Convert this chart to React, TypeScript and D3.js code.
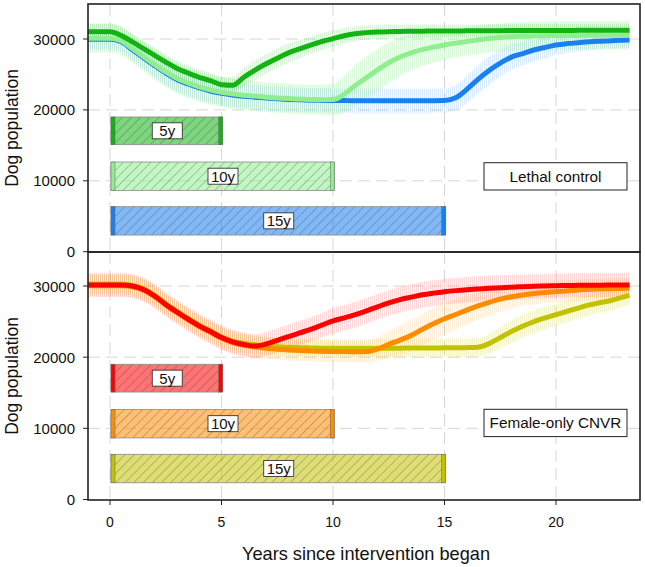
import React from "react";
import * as d3 from "d3";

const years = [
  -1, -0.5, 0, 0.5, 1, 1.5, 2, 2.5, 3, 3.5,
  4, 4.5, 5, 5.5, 6, 6.5, 7, 7.5, 8, 8.5,
  9, 9.5, 10, 10.5, 11, 11.5, 12, 12.5, 13, 13.5,
  14, 14.5, 15, 15.5, 16, 16.5, 17, 17.5, 18, 18.5,
  19, 19.5, 20, 20.5, 21, 21.5, 22, 22.5, 23, 23.3,
];

// Lethal control
const lethal5 = [
  31030, 31030, 31030, 30500, 29600, 28650, 27700, 26750, 25850, 25200,
  24600, 24130, 23550, 23480, 24600, 25600, 26500, 27300, 28050, 28600,
  29150, 29650, 30050, 30450, 30750, 30900, 30990, 31040, 31070, 31090,
  31110, 31120, 31130, 31140, 31150, 31160, 31170, 31180, 31190, 31190,
  31200, 31200, 31210, 31210, 31220, 31220, 31230, 31230, 31240, 31240,
];
const lethal10 = [
  30100, 30100, 30100, 29750, 28650, 27510, 26400, 25350, 24450, 23800,
  23250, 22820, 22500, 22260, 22080, 21950, 21800, 21690, 21600, 21530,
  21470, 21430, 21450, 22200, 23450, 24550, 25650, 26650, 27450, 28050,
  28500, 28850, 29150, 29420, 29650, 29880, 30080, 30220, 30320, 30400,
  30440, 30470, 30490, 30500, 30510, 30520, 30530, 30540, 30550, 30560,
];
const lethal15 = [
  29950, 29950, 29950, 29600, 28500, 27360, 26250, 25200, 24300, 23650,
  23100, 22670, 22350, 22110, 21930, 21800, 21660, 21560, 21480, 21420,
  21370, 21340, 21320, 21310, 21300, 21300, 21300, 21300, 21300, 21300,
  21300, 21300, 21320, 21700, 22900, 24300, 25550, 26600, 27450, 27950,
  28450, 28800, 29150, 29350, 29480, 29600, 29690, 29770, 29830, 29860,
];
const lethal5Spread = [
  1200, 1200, 1200, 1200, 1150, 1100, 1100, 1100, 1100, 1100,
  1100, 1100, 1100, 1150, 1300, 1400, 1400, 1400, 1350, 1300,
  1250, 1200, 1150, 1100, 1050, 1000, 1000, 1000, 950, 950,
  950, 950, 900, 900, 900, 900, 900, 900, 900, 900,
  900, 900, 900, 900, 900, 900, 900, 900, 900, 900,
];
const lethal10Spread = [
  2000, 2000, 2000, 2000, 2000, 2100, 2100, 2100, 2100, 2100,
  2100, 2100, 2100, 2100, 2100, 2100, 2100, 2100, 2100, 2100,
  2100, 2100, 2200, 2600, 2900, 3000, 3000, 2900, 2700, 2500,
  2300, 2200, 2100, 2000, 2000, 2000, 2000, 2000, 2000, 2000,
  2000, 2000, 2000, 2000, 2000, 2000, 2000, 2000, 2000, 2000,
];
const lethal15Spread = [
  1400, 1400, 1400, 1400, 1500, 1600, 1600, 1700, 1700, 1700,
  1700, 1700, 1700, 1700, 1700, 1700, 1700, 1700, 1700, 1700,
  1700, 1700, 1700, 1700, 1700, 1700, 1700, 1700, 1700, 1700,
  1700, 1700, 1700, 1800, 1900, 2000, 2000, 1900, 1800, 1700,
  1600, 1500, 1400, 1300, 1200, 1200, 1100, 1100, 1100, 1100,
];

// Female-only CNVR
const female5 = [
  30150, 30150, 30150, 30150, 30000, 29500, 28600, 27400, 26350, 25350,
  24400, 23600, 22750, 22150, 21780, 21560, 21850, 22370, 22880, 23400,
  23920, 24500, 25100, 25520, 25980, 26500, 27080, 27620, 28080, 28430,
  28760, 29000, 29200, 29350, 29470, 29580, 29680, 29760, 29840, 29900,
  29950, 30000, 30040, 30070, 30090, 30110, 30120, 30130, 30140, 30150,
];
const female10 = [
  30050, 30050, 30050, 30050, 29900, 29400, 28500, 27300, 26250, 25250,
  24300, 23500, 22650, 22050, 21680, 21450, 21250, 21120, 21020, 20940,
  20880, 20830, 20800, 20780, 20770, 20780, 21150, 21800, 22400, 23050,
  23900, 24700, 25400, 26000, 26620, 27200, 27700, 28150, 28500, 28750,
  28950, 29100, 29220, 29320, 29430, 29530, 29580, 29620, 29660, 29680,
];
const female15 = [
  30270, 30270, 30270, 30270, 30120, 29620, 28720, 27520, 26470, 25470,
  24520, 23720, 22870, 22300, 21950, 21750, 21600, 21480, 21400, 21340,
  21300, 21270, 21250, 21240, 21240, 21240, 21250, 21260, 21270, 21280,
  21290, 21300, 21310, 21320, 21340, 21400, 21900, 22750, 23600, 24350,
  24980, 25500, 25970, 26450, 26900, 27350, 27680, 28000, 28450, 28730,
];
const female5Spread = [
  1700, 1700, 1700, 1700, 1700, 1700, 1700, 1700, 1700, 1700,
  1700, 1700, 1700, 1700, 1700, 1700, 1700, 1700, 1700, 1700,
  1700, 1750, 1800, 1800, 1800, 1800, 1800, 1800, 1800, 1800,
  1800, 1800, 1800, 1800, 1800, 1800, 1800, 1750, 1750, 1700,
  1700, 1700, 1700, 1700, 1700, 1700, 1700, 1700, 1700, 1700,
];
const female10Spread = [
  1500, 1500, 1500, 1500, 1500, 1500, 1500, 1500, 1500, 1500,
  1500, 1500, 1500, 1500, 1500, 1500, 1500, 1500, 1500, 1500,
  1500, 1500, 1500, 1500, 1500, 1500, 1700, 1900, 2100, 2200,
  2200, 2200, 2200, 2100, 2000, 1900, 1800, 1700, 1600, 1500,
  1500, 1500, 1500, 1500, 1500, 1500, 1500, 1500, 1500, 1500,
];
const female15Spread = [
  1400, 1400, 1400, 1400, 1400, 1400, 1400, 1400, 1400, 1400,
  1400, 1400, 1400, 1400, 1300, 1300, 1300, 1300, 1300, 1300,
  1300, 1300, 1300, 1300, 1300, 1300, 1300, 1300, 1300, 1300,
  1300, 1300, 1300, 1300, 1300, 1300, 1400, 1500, 1600, 1600,
  1600, 1600, 1500, 1500, 1500, 1400, 1400, 1400, 1300, 1300,
];

const durations = [5, 10, 15];
const durationLabels = ["5y", "10y", "15y"];
const barLow = [15100, 8650, 2350];
const barHigh = [19000, 12650, 6350];
const yTicks = [0, 10000, 20000, 30000];
const xTicks = [0, 5, 10, 15, 20];
const panelTitles = ["Lethal control", "Female-only CNVR"];
const lethalColors = ["#12b312", "#90ee90", "#1a80f0"];
const femaleColors = ["#ff0000", "#ff8c00", "#c2c200"];
const bandOpacity = [[0.16, 0.3, 0.17], [0.15, 0.14, 0.2]];
const yLabel = "Dog population";
const xLabel = "Years since intervention began";

const FONT = "'Liberation Sans', Arial, Helvetica, sans-serif";

export default function App() {
  const W = 645;
  const H = 567;
  const frameL = 88;
  const frameR = 640;
  const x = d3.scaleLinear().domain([0, 20]).range([110, 556]);

  const panels = [
    {
      top: 4,
      bottom: 252,
      y: d3.scaleLinear().domain([0, 30000]).range([251.7, 39]),
      series: [lethal5, lethal10, lethal15],
      spreads: [lethal5Spread, lethal10Spread, lethal15Spread],
      colors: lethalColors,
      title: panelTitles[0],
      titleBox: [484, 162.7, 143, 27.3],
    },
    {
      top: 252,
      bottom: 500,
      y: d3.scaleLinear().domain([0, 30000]).range([499.5, 286]),
      series: [female5, female10, female15],
      spreads: [female5Spread, female10Spread, female15Spread],
      colors: femaleColors,
      title: panelTitles[1],
      titleBox: [484, 409.3, 143, 27.3],
    },
  ];

  return (
    <svg
      width={W}
      height={H}
      style={{ position: "absolute", left: 0, top: 0, background: "#fff" }}
      fontFamily={FONT}
    >
      <defs>
        <pattern id="hatch" patternUnits="userSpaceOnUse" width={6.5} height={6.5} patternTransform="rotate(45)">
          <line x1={0} y1={0} x2={0} y2={6.5} stroke="#333" strokeWidth={0.7} strokeOpacity={0.75} />
        </pattern>
        {panels.map((p, pi) =>
          p.colors.map((c, ci) => (
            <pattern key={`s${pi}${ci}`} id={`stripe-${pi}-${ci}`} patternUnits="userSpaceOnUse" width={2} height={4}>
              <rect x={0} y={0} width={1} height={4} fill={c} fillOpacity={bandOpacity[pi][ci]} />
            </pattern>
          ))
        )}
        {panels.map((p, pi) => (
          <clipPath key={`c${pi}`} id={`clip-${pi}`}>
            <rect x={frameL} y={p.top} width={frameR - frameL} height={p.bottom - p.top} />
          </clipPath>
        ))}
      </defs>

      {panels.map((p, pi) => {
        const y = p.y;
        const line = d3
          .line<number>()
          .x((_, i) => x(years[i]))
          .y((d) => y(d))
          .curve(d3.curveMonotoneX);
        const order = [2, 1, 0];
        return (
          <g key={`p${pi}`}>
            {/* grid */}
            <g stroke="#d6d6d6" strokeWidth={1} strokeDasharray="12,6">
              {xTicks.map((t) => (
                <line key={`gx${t}`} x1={x(t)} x2={x(t)} y1={p.top} y2={p.bottom} />
              ))}
              {yTicks.filter((t) => t > 0).map((t) => (
                <line key={`gy${t}`} x1={frameL} x2={frameR} y1={y(t)} y2={y(t)} />
              ))}
            </g>

            {/* bands and lines */}
            <g clipPath={`url(#clip-${pi})`}>
              {order.map((si) => {
                const area = d3
                  .area<number>()
                  .x((_, i) => x(years[i]))
                  .y0((d, i) => y(d - p.spreads[si][i]))
                  .y1((d, i) => y(d + p.spreads[si][i]))
                  .curve(d3.curveMonotoneX);
                return <path key={`b${si}`} d={area(p.series[si]) || ""} fill={`url(#stripe-${pi}-${si})`} />;
              })}
              {order.map((si) => (
                <path
                  key={`l${si}`}
                  d={line(p.series[si]) || ""}
                  fill="none"
                  stroke={p.colors[si]}
                  strokeWidth={5}
                  strokeLinejoin="round"
                />
              ))}
            </g>

            {/* duration bars */}
            {durations.map((d, i) => {
              const x0 = x(0) + 1;
              const x1 = x(d) + 1.2;
              const yt = y(barHigh[i]);
              const yb = y(barLow[i]);
              const c = p.colors[i];
              const lx = x(d / 2) + 1.5;
              const ly = (yt + yb) / 2;
              return (
                <g key={`bar${i}`}>
                  <rect x={x0} y={yt} width={x1 - x0} height={yb - yt} fill={c} fillOpacity={0.55} />
                  <rect x={x0} y={yt} width={x1 - x0} height={yb - yt} fill="url(#hatch)" stroke="#8a8a8a" strokeWidth={0.8} />
                  <rect x={x0} y={yt} width={4} height={yb - yt} fill={c} stroke="#666" strokeWidth={0.5} />
                  <rect x={x1 - 4} y={yt} width={4} height={yb - yt} fill={c} stroke="#666" strokeWidth={0.5} />
                  <rect x={lx - 15} y={ly - 8} width={30} height={16} fill="#fff" stroke="#222" strokeWidth={0.8} />
                  <text x={lx} y={ly} textAnchor="middle" dominantBaseline="central" fontSize={15} fill="#111">
                    {durationLabels[i]}
                  </text>
                </g>
              );
            })}

            {/* panel title box */}
            <rect
              x={p.titleBox[0]}
              y={p.titleBox[1]}
              width={p.titleBox[2]}
              height={p.titleBox[3]}
              fill="#fff"
              stroke="#222"
              strokeWidth={1}
            />
            <text
              x={p.titleBox[0] + p.titleBox[2] / 2}
              y={p.titleBox[1] + p.titleBox[3] / 2}
              textAnchor="middle"
              dominantBaseline="central"
              fontSize={15.3}
              fill="#111"
            >
              {p.title}
            </text>

            {/* frame */}
            <rect
              x={frameL}
              y={p.top}
              width={frameR - frameL}
              height={p.bottom - p.top}
              fill="none"
              stroke="#222"
              strokeWidth={1.6}
            />

            {/* y axis */}
            {yTicks.map((t) => (
              <g key={`yt${t}`}>
                <line x1={frameL - 5} x2={frameL} y1={y(t)} y2={y(t)} stroke="#222" strokeWidth={1} />
                <text x={75} y={y(t)} textAnchor="end" dominantBaseline="central" fontSize={15} fill="#111">
                  {t}
                </text>
              </g>
            ))}
            <text
              transform={`translate(18,${(p.top + p.bottom) / 2}) rotate(-90)`}
              textAnchor="middle"
              fontSize={17.5}
              fill="#111"
            >
              {yLabel}
            </text>
          </g>
        );
      })}

      {/* x axis */}
      {xTicks.map((t) => (
        <g key={`xt${t}`}>
          <line x1={x(t)} x2={x(t)} y1={500} y2={505} stroke="#222" strokeWidth={1} />
          <text x={x(t)} y={527} textAnchor="middle" fontSize={14} fill="#111">
            {t}
          </text>
        </g>
      ))}
      <text x={366} y={560} textAnchor="middle" fontSize={18.2} fill="#111">
        {xLabel}
      </text>
    </svg>
  );
}
